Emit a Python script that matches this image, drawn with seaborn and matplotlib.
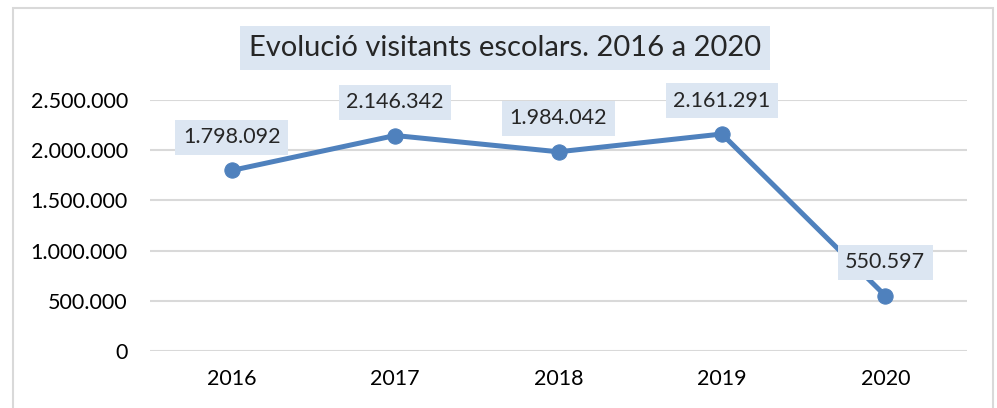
import pandas as pd
import matplotlib.pyplot as plt
import seaborn as sns
from matplotlib.ticker import FuncFormatter
from matplotlib.patches import Rectangle

# Dades
anys = ['2016', '2017', '2018', '2019', '2020']
visitants = [1798092, 2146342, 1984042, 2161291, 550597]
titol = 'Evolució visitants escolars. 2016 a 2020'

df = pd.DataFrame({'Any': anys, 'Visitants': visitants})

sns.set_style('white')
plt.rcParams['font.family'] = ['Lato', 'DejaVu Sans']

fig = plt.figure(figsize=(9.97, 4.08), dpi=100)
ax = fig.add_axes([150 / 997, 1 - 351 / 408, (967 - 150) / 997, (351 - 100) / 408])

blau = '#4F81BD'
caixa = '#DCE6F2'

sns.lineplot(data=df, x='Any', y='Visitants', ax=ax, color=blau, linewidth=3.6,
             marker='o', markersize=11, markeredgecolor=blau, sort=False)

ax.set_xlim(-0.5, len(anys) - 0.5)
ax.set_ylim(0, 2500000)
ax.set_yticks(range(0, 2500001, 500000))
ax.yaxis.set_major_formatter(FuncFormatter(lambda v, p: f'{int(v):,}'.replace(',', '.')))
ax.grid(axis='y', color='#D9D9D9', linewidth=1.5)
ax.grid(axis='x', visible=False)
for s in ax.spines.values():
    s.set_visible(False)
ax.tick_params(axis='y', length=0, pad=16, labelsize=15.5, labelcolor='black')
ax.tick_params(axis='x', length=0, pad=13, labelsize=15.5, labelcolor='black')
ax.set_xlabel('')
ax.set_ylabel('')

# Etiquetes de dades
for i, v in enumerate(visitants):
    ax.annotate(f'{v:,}'.replace(',', '.'), (i, v), xytext=(0, 24), textcoords='offset points',
                ha='center', va='center', fontsize=15.5,
                bbox=dict(boxstyle='square,pad=0.35', fc=caixa, ec='none'))

fig.text(505 / 997, 1 - 48 / 408, titol, ha='center', va='center', fontsize=21,
         bbox=dict(boxstyle='square,pad=0.32', fc=caixa, ec='none'))

# Vora del gràfic
fig.patches.append(Rectangle((13 / 997, -0.1), (993 - 13) / 997, 1.1 - 8 / 408,
                             transform=fig.transFigure, fill=False, ec='#D9D9D9', lw=1.5))

fig.savefig('out.png', dpi=100)
